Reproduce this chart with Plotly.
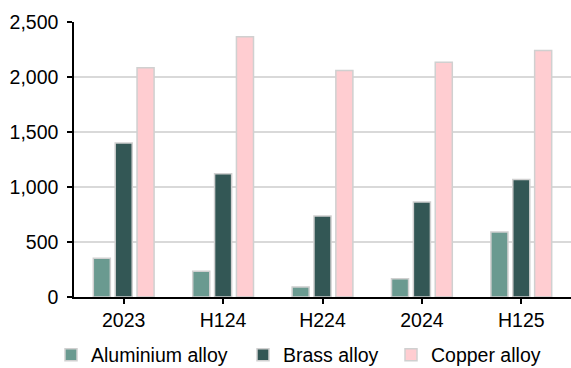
import plotly.graph_objects as go

categories = ["2023", "H124", "H224", "2024", "H125"]
aluminium = [352, 235, 92, 165, 590]
brass = [1400, 1120, 736, 864, 1068]
copper = [2085, 2365, 2058, 2133, 2242]

series = [
    ("Aluminium alloy", aluminium, "#6a9a90", "legend"),
    ("Brass alloy", brass, "#335755", "legend2"),
    ("Copper alloy", copper, "#ffcdd1", "legend3"),
]

fig = go.Figure()
for name, vals, col, lg in series:
    fig.add_trace(go.Bar(
        x=categories, y=vals, name=name, legend=lg,
        marker=dict(color=col, line=dict(color="#d0d0d0", width=1.5)),
    ))

font = dict(family="Liberation Sans, Arial, sans-serif", size=19.5, color="#000000")
W = 497.0
def leg(text_px):
    left = text_px - 40
    return dict(orientation="h", x=(left - 74) / W, xanchor="left", y=-0.211,
                yanchor="middle", font=font, itemwidth=30, bgcolor="rgba(0,0,0,0)")

fig.update_layout(
    width=571, height=368,
    margin=dict(l=74, r=0, t=22, b=71, autoexpand=False),
    paper_bgcolor="white", plot_bgcolor="white",
    barmode="group", bargap=0.34, bargroupgap=0.22,
    font=font,
    showlegend=True,
    legend=leg(91), legend2=leg(283), legend3=leg(431),
    xaxis=dict(showline=True, linecolor="black", linewidth=1.5, ticks="outside",
               tickcolor="black", ticklen=5, tickwidth=1.5, showgrid=False,
               tickfont=font, automargin=False),
    yaxis=dict(range=[0, 2500], dtick=500, tickformat=",", showline=True,
               linecolor="black", linewidth=1.5, ticks="outside", tickcolor="black",
               ticklen=5, tickwidth=1.5, showgrid=True, gridcolor="#d9d9d9",
               gridwidth=1.5, zeroline=False, tickfont=font, automargin=False,
               ticklabelstandoff=5),
)

fig.write_html("out.html", config={"displayModeBar": False},
               post_script="document.body.style.margin='0';document.body.style.overflow='hidden';")
